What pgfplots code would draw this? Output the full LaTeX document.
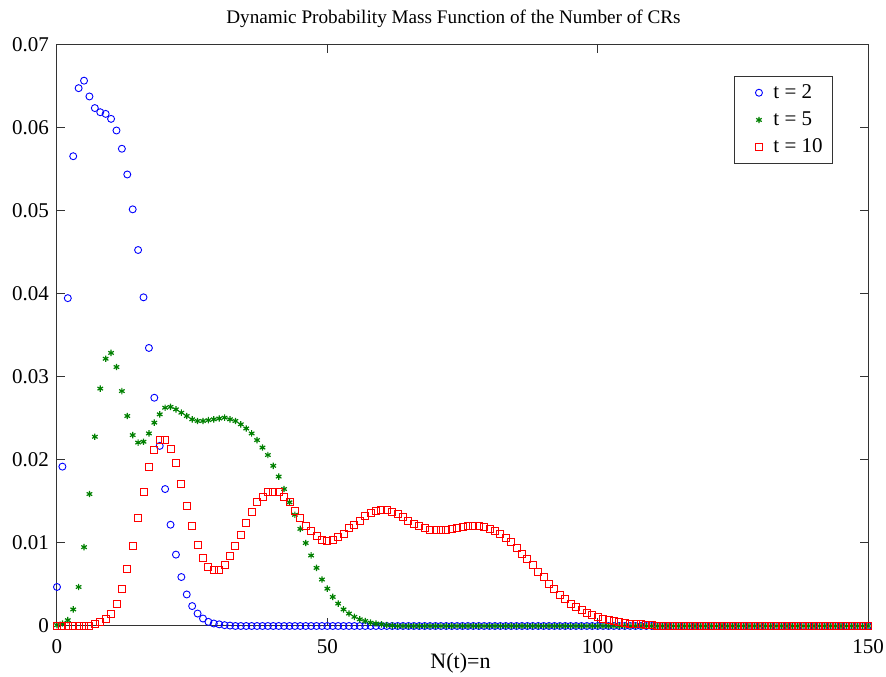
\documentclass[border=0pt]{standalone}
\usepackage{fontspec}
\setmainfont{Liberation Serif}
\usepackage{pgfplots}
\pgfplotsset{compat=1.18}
\usetikzlibrary{calc}

\definecolor{mblue}{RGB}{0,0,255}
\definecolor{mgreen}{RGB}{0,128,0}
\definecolor{mred}{RGB}{255,0,0}

\begin{document}
\begin{tikzpicture}
\begin{axis}[
  scale only axis,
  width=405.5pt, height=290.5pt,
  xmin=0, xmax=150, ymin=0, ymax=0.07,
  xtick={0,50,100,150},
  ytick={0,0.01,0.02,0.03,0.04,0.05,0.06,0.07},
  scaled y ticks=false,
  yticklabel style={/pgf/number format/fixed, /pgf/number format/precision=2, xshift=-0.5pt},
  xticklabel style={yshift=-3pt},
  /pgf/number format/assume math mode=true,
  tick label style={font=\fontsize{10.5}{12}\selectfont},
  tick align=inside,
  major tick length=4pt,
  axis line style={black!80, line width=0.5pt},
  every tick/.style={black!80, line width=0.5pt},
  title={Dynamic Probability Mass Function of the Number of CRs},
  title style={at={(0.5,1)}, anchor=base, yshift=4.5pt, xshift=-4.5pt, font=\fontsize{9.6}{11}\selectfont},
  xlabel={N(t)=n},
  xlabel style={at={(0.5,0)}, anchor=base, yshift=-21.5pt, xshift=-1pt, font=\fontsize{11}{13}\selectfont},
  legend style={at={(0.957,0.947)}, anchor=north east, draw=black!80, line width=0.5pt,
    font=\fontsize{10.5}{12}\selectfont, row sep=1.2pt, inner xsep=3pt, inner ysep=2pt,
    cells={anchor=west}},
  legend cell align=left,
  legend image code/.code={%
    \path (0pt,0pt) (14pt,0pt);
    \draw[#1] plot coordinates {(9pt,0pt)};},
]
% t = 2
\addplot[only marks, mark=o, mark size=1.75pt, mblue, mark options={line width=0.45pt}] coordinates {
(0,0.0047)(1,0.0192)(2,0.0395)(3,0.0566)(4,0.0648)(5,0.0657)(6,0.0638)(7,0.0624)
(8,0.0619)(9,0.0617)(10,0.0611)(11,0.0597)(12,0.0575)(13,0.0544)(14,0.0502)(15,0.0453)
(16,0.0396)(17,0.0335)(18,0.0275)(19,0.0217)(20,0.0165)(21,0.0122)(22,0.0086)(23,0.0059)
(24,0.0038)(25,0.0024)(26,0.0015)(27,0.0009)(28,0.0005)(29,0.0003)(30,0.0002)(31,0.0001)
(32,0.00005)(33,0)(34,0)(35,0)(36,0)(37,0)(38,0)(39,0)(40,0)(41,0)(42,0)(43,0)(44,0)
(45,0)(46,0)(47,0)(48,0)(49,0)(50,0)(51,0)(52,0)(53,0)(54,0)(55,0)(56,0)(57,0)(58,0)
(59,0)(60,0)(61,0)(62,0)(63,0)(64,0)(65,0)(66,0)(67,0)(68,0)(69,0)(70,0)(71,0)(72,0)
(73,0)(74,0)(75,0)(76,0)(77,0)(78,0)(79,0)(80,0)(81,0)(82,0)(83,0)(84,0)(85,0)(86,0)
(87,0)(88,0)(89,0)(90,0)(91,0)(92,0)(93,0)(94,0)(95,0)(96,0)(97,0)(98,0)(99,0)(100,0)
(101,0)(102,0)(103,0)(104,0)(105,0)(106,0)(107,0)(108,0)(109,0)(110,0)(111,0)(112,0)
(113,0)(114,0)(115,0)(116,0)(117,0)(118,0)(119,0)(120,0)(121,0)(122,0)(123,0)(124,0)
(125,0)(126,0)(127,0)(128,0)(129,0)(130,0)(131,0)(132,0)(133,0)(134,0)(135,0)(136,0)
(137,0)(138,0)(139,0)(140,0)(141,0)(142,0)(143,0)(144,0)(145,0)(146,0)(147,0)(148,0)
(149,0)(150,0)
};
\addlegendentry{t = 2}
% t = 5
\addplot[only marks, mark=asterisk, mark size=1.6pt, mgreen, mark options={line width=0.6pt}] coordinates {
(0,0.0001)(1,0.0003)(2,0.0007)(3,0.0020)(4,0.0047)(5,0.0095)(6,0.0159)(7,0.0228)
(8,0.0286)(9,0.0322)(10,0.0329)(11,0.0312)(12,0.0283)(13,0.0253)(14,0.0230)(15,0.0221)
(16,0.0222)(17,0.0232)(18,0.0245)(19,0.0255)(20,0.0263)(21,0.0264)(22,0.0261)(23,0.0257)
(24,0.0253)(25,0.0249)(26,0.0247)(27,0.0247)(28,0.0248)(29,0.0249)(30,0.0250)(31,0.0251)
(32,0.0249)(33,0.0247)(34,0.0243)(35,0.0238)(36,0.0232)(37,0.0224)(38,0.0215)(39,0.0206)
(40,0.0193)(41,0.0180)(42,0.0165)(43,0.0149)(44,0.0134)(45,0.0117)(46,0.0100)(47,0.0085)
(48,0.0070)(49,0.0056)(50,0.0045)(51,0.0035)(52,0.0027)(53,0.0020)(54,0.0015)(55,0.0011)
(56,0.0008)(57,0.0006)(58,0.0004)(59,0.0003)(60,0.0002)(61,0.0001)(62,0.00005)
(63,0)(64,0)(65,0)(66,0)(67,0)(68,0)(69,0)(70,0)(71,0)(72,0)
(73,0)(74,0)(75,0)(76,0)(77,0)(78,0)(79,0)(80,0)(81,0)(82,0)(83,0)(84,0)(85,0)(86,0)
(87,0)(88,0)(89,0)(90,0)(91,0)(92,0)(93,0)(94,0)(95,0)(96,0)(97,0)(98,0)(99,0)(100,0)
(101,0)(102,0)(103,0)(104,0)(105,0)(106,0)(107,0)(108,0)(109,0)(110,0)(111,0)(112,0)
(113,0)(114,0)(115,0)(116,0)(117,0)(118,0)(119,0)(120,0)(121,0)(122,0)(123,0)(124,0)
(125,0)(126,0)(127,0)(128,0)(129,0)(130,0)(131,0)(132,0)(133,0)(134,0)(135,0)(136,0)
(137,0)(138,0)(139,0)(140,0)(141,0)(142,0)(143,0)(144,0)(145,0)(146,0)(147,0)(148,0)
(149,0)(150,0)
};
\addlegendentry{t = 5}
% t = 10
\addplot[only marks, mark=square, mark size=1.75pt, mred, mark options={line width=0.45pt}] coordinates {
(0,0)(1,0)(2,0)(3,0)(4,0)(5,0)(6,0)(7,0.0002)
(8,0.0005)(9,0.0008)(10,0.0015)(11,0.0027)(12,0.0045)(13,0.0069)(14,0.0097)(15,0.0130)
(16,0.0162)(17,0.0192)(18,0.0212)(19,0.0224)(20,0.0224)(21,0.0213)(22,0.0196)(23,0.0171)
(24,0.0145)(25,0.0120)(26,0.0098)(27,0.0082)(28,0.0071)(29,0.0067)(30,0.0068)(31,0.0074)
(32,0.0084)(33,0.0096)(34,0.0110)(35,0.0124)(36,0.0138)(37,0.0149)(38,0.0156)(39,0.0161)
(40,0.0162)(41,0.0161)(42,0.0156)(43,0.0149)(44,0.0139)(45,0.0130)(46,0.0121)(47,0.0114)
(48,0.0108)(49,0.0104)(50,0.0102)(51,0.0104)(52,0.0107)(53,0.0111)(54,0.0118)(55,0.0122)
(56,0.0127)(57,0.0133)(58,0.0136)(59,0.0139)(60,0.0140)(61,0.0140)(62,0.0138)(63,0.0135)
(64,0.0131)(65,0.0127)(66,0.0123)(67,0.0120)(68,0.0118)(69,0.0116)(70,0.0116)(71,0.0116)
(72,0.0116)(73,0.0117)(74,0.0118)(75,0.0119)(76,0.0120)(77,0.0121)(78,0.0120)(79,0.0119)
(80,0.0117)(81,0.0115)(82,0.0111)(83,0.0106)(84,0.0101)(85,0.0094)(86,0.0087)(87,0.0081)
(88,0.0073)(89,0.0065)(90,0.0059)(91,0.0051)(92,0.0045)(93,0.0038)(94,0.0033)(95,0.0027)
(96,0.0023)(97,0.0019)(98,0.0016)(99,0.0013)(100,0.0011)(101,0.0009)(102,0.0007)(103,0.0006)
(104,0.0005)(105,0.0004)(106,0.0003)(107,0.0002)(108,0.0002)(109,0.0001)(110,0.0001)(111,0.00005)
(112,0)(113,0)(114,0)(115,0)(116,0)(117,0)(118,0)(119,0)(120,0)(121,0)(122,0)(123,0)(124,0)
(125,0)(126,0)(127,0)(128,0)(129,0)(130,0)(131,0)(132,0)(133,0)(134,0)(135,0)(136,0)
(137,0)(138,0)(139,0)(140,0)(141,0)(142,0)(143,0)(144,0)(145,0)(146,0)(147,0)(148,0)
(149,0)(150,0)
};
\addlegendentry{t = 10}
\end{axis}
\pgfresetboundingbox
\path ($(current axis.south west)+(-28.5pt,-25.5pt)$) rectangle ($(current axis.north east)+(9pt,22.5pt)$);
\end{tikzpicture}
\end{document}
